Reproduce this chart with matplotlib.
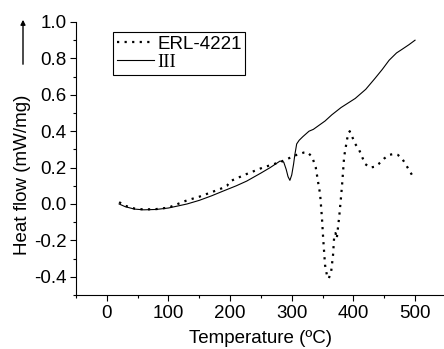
import matplotlib.pyplot as plt
from matplotlib.ticker import MultipleLocator

# ERL-4221 (dotted)
temp_erl = [20, 30, 45, 60, 80, 100, 130, 150, 170, 188, 195, 200, 210, 227, 253, 281, 308, 320, 325,
            333, 339, 343, 346, 349, 351, 354, 357, 360, 364, 367, 369, 371, 373, 375, 377, 380, 382,
            385, 390, 394, 398, 403, 409, 414, 419, 427, 435, 441, 450, 458, 466, 472, 479, 488, 495, 500]
heat_erl = [0.01, -0.01, -0.025, -0.03, -0.028, -0.02, 0.02, 0.04, 0.065, 0.088, 0.10, 0.125, 0.14,
            0.165, 0.20, 0.23, 0.27, 0.283, 0.285, 0.26, 0.20, 0.115, 0.055, -0.077, -0.19, -0.335,
            -0.39, -0.41, -0.37, -0.28, -0.17, -0.16, -0.19, -0.13, -0.07, 0.04, 0.12, 0.26, 0.36,
            0.40, 0.37, 0.33, 0.30, 0.26, 0.22, 0.20, 0.205, 0.22, 0.25, 0.27, 0.275, 0.27, 0.25,
            0.20, 0.16, 0.15]

# III (solid)
temp_iii = [20, 30, 45, 60, 80, 100, 130, 150, 170, 188, 210, 227, 250, 265, 281, 287, 291, 294, 297,
            300, 303, 305, 308, 312, 318, 328, 335, 354, 365, 380, 403, 420, 435, 447, 458, 470, 479,
            490, 500]
heat_iii = [0.0, -0.015, -0.028, -0.032, -0.03, -0.022, 0.0, 0.02, 0.045, 0.07, 0.1, 0.126, 0.17,
            0.2, 0.236, 0.23, 0.19, 0.15, 0.13, 0.16, 0.22, 0.27, 0.33, 0.35, 0.37, 0.40, 0.41, 0.456,
            0.49, 0.53, 0.58, 0.63, 0.69, 0.74, 0.79, 0.83, 0.85, 0.875, 0.90]

plt.rcParams['font.family'] = ['Liberation Sans', 'DejaVu Sans']
plt.rcParams['font.size'] = 13.5

fig = plt.figure(figsize=(4.44, 3.49), dpi=100)
ax = fig.add_axes([76 / 444, 1 - 295 / 349, 1 - 76 / 444, (295 - 22) / 349])

ax.plot(temp_erl, heat_erl, color='black', lw=1.6, linestyle=(0, (1, 2.4)), label='ERL-4221')
ax.plot(temp_iii, heat_iii, color='black', lw=0.8, label='III')

ax.set_xlim(-50, 547)
ax.set_ylim(-0.5, 1.0)
ax.xaxis.set_major_locator(MultipleLocator(100))
ax.xaxis.set_minor_locator(MultipleLocator(50))
ax.yaxis.set_major_locator(MultipleLocator(0.2))
ax.yaxis.set_minor_locator(MultipleLocator(0.1))
ax.yaxis.set_major_formatter(plt.FuncFormatter(lambda v, p: f'{v:.1f}'))
ax.tick_params(which='major', direction='out', length=4, width=0.8, pad=3)
ax.tick_params(which='minor', direction='out', length=2.5, width=0.8)
ax.spines['top'].set_visible(False)
ax.spines['right'].set_visible(False)

ax.set_xlabel('Temperature (ºC)', labelpad=6)
ax.set_ylabel('Heat flow (mW/mg)', labelpad=2, y=0.44)

leg = ax.legend(loc='upper left', bbox_to_anchor=(113 / 444, 1 - 32 / 349),
                bbox_transform=fig.transFigure, borderaxespad=0, fancybox=False,
                edgecolor='black', framealpha=1, borderpad=0.2, labelspacing=0.05,
                handlelength=2.0, handletextpad=0.15, fontsize=13.5)
leg.get_frame().set_linewidth(0.8)
leg.get_texts()[1].set_family('Liberation Serif')

ax.annotate('', xy=(23 / 444, 1 - 17 / 349), xytext=(23 / 444, 1 - 67 / 349),
            xycoords='figure fraction', textcoords='figure fraction',
            arrowprops=dict(arrowstyle='-|>', lw=1, color='black', mutation_scale=7),
            annotation_clip=False)

fig.savefig('out.png', dpi=100)
